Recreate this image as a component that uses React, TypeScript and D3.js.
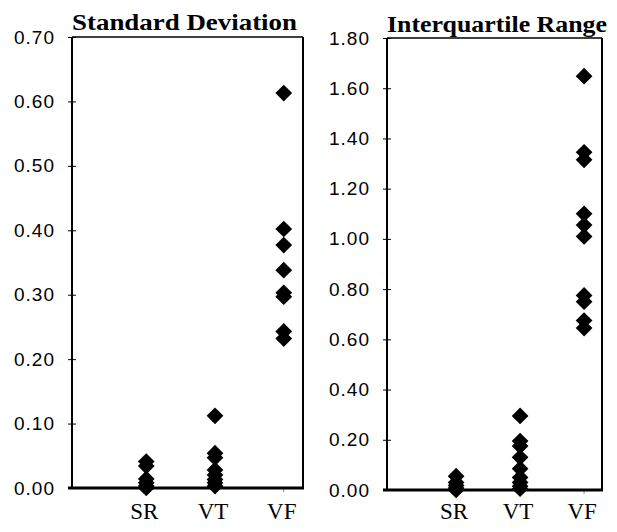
import { useEffect, useRef } from "react";
import * as d3 from "d3";

// categories on the x axis
const groups = ["SR", "VT", "VF"];

// Standard Deviation panel
const sdSR = [0.041, 0.034, 0.014, 0.008, 0.003, 0.0];
const sdVT = [0.112, 0.054, 0.047, 0.028, 0.02, 0.013, 0.008, 0.003];
const sdVF = [0.613, 0.402, 0.377, 0.338, 0.303, 0.297, 0.243, 0.232];
const sdTicks = [0, 0.1, 0.2, 0.3, 0.4, 0.5, 0.6, 0.7];

// Interquartile Range panel
const iqrSR = [0.055, 0.03, 0.018, 0.008, 0.0];
const iqrVT = [0.295, 0.195, 0.175, 0.13, 0.085, 0.05, 0.03, 0.015, 0.005];
const iqrVF = [1.648, 1.345, 1.315, 1.1, 1.055, 1.01, 0.775, 0.75, 0.675, 0.645];
const iqrTicks = [0, 0.2, 0.4, 0.6, 0.8, 1.0, 1.2, 1.4, 1.6, 1.8];

const diamond = d3.symbol(d3.symbolSquare, 140)();

const Panel = ({ title, titleWidth, titleY, box, yMax, ticks, series }) => {
  const axisRef = useRef(null);

  const xScale = d3
    .scaleLinear()
    .domain([-0.08, 3.28])
    .range([box.left, box.right]);

  const yScale = d3
    .scaleLinear()
    .domain([0, yMax])
    .range([box.bottom, box.top]);

  useEffect(() => {
    const yAxis = d3
      .axisLeft(yScale)
      .tickValues(ticks)
      .tickFormat(d3.format(".2f"))
      .tickSizeOuter(0)
      .tickSizeInner(4)
      .tickPadding(13);

    const g = d3.select(axisRef.current).call(yAxis);
    g.select(".domain").remove();
    g.selectAll(".tick line").attr("x2", 4).attr("x1", -4).attr("stroke-width", 1);
    g.selectAll(".tick text")
      .attr("font-size", "19px")
      .attr("font-family", "Liberation Sans, Arial, sans-serif")
      .attr("letter-spacing", "1px")
      .attr("fill", "#000");
  }, [yScale, ticks]);

  const points = series.flatMap((vals, i) => vals.map((v) => ({ g: i + 1, v })));

  return (
    <g>
      <text
        x={box.left}
        y={titleY}
        textLength={titleWidth}
        lengthAdjust="spacingAndGlyphs"
        fontFamily="Liberation Serif, Times New Roman, serif"
        fontWeight="bold"
        fontSize={23}
      >
        {title}
      </text>

      {/* frame */}
      <line x1={box.left} x2={box.right} y1={box.top} y2={box.top} stroke="#000" strokeWidth={1.5} />
      <line x1={box.right} x2={box.right} y1={box.top} y2={box.bottom} stroke="#000" strokeWidth={2} />
      <line x1={box.left} x2={box.left} y1={box.top} y2={box.bottom} stroke="#000" strokeWidth={2} />

      {/* faint category ticks */}
      {groups.map((d, i) => (
        <line
          key={d}
          x1={xScale(i + 1)}
          x2={xScale(i + 1)}
          y1={box.bottom}
          y2={box.bottom + 4}
          stroke="#888"
          strokeWidth={1}
        />
      ))}

      <g ref={axisRef} transform={`translate(${box.left},0)`}></g>

      <g className="points">
        {points.map((d, i) => (
          <path
            key={i}
            d={diamond}
            transform={`translate(${xScale(d.g)},${yScale(d.v)}) rotate(45)`}
            fill="#000"
          />
        ))}
      </g>

      <line x1={box.left - 4} x2={box.right + 1} y1={box.bottom} y2={box.bottom} stroke="#000" strokeWidth={3} />

      {groups.map((d, i) => (
        <text
          key={d}
          x={xScale(i + 1) - 2}
          y={519}
          textAnchor="middle"
          fontFamily="Liberation Serif, Times New Roman, serif"
          fontSize={23}
        >
          {d}
        </text>
      ))}
    </g>
  );
};

const App = () => {
  return (
    <svg
      width={617}
      height={532}
      viewBox="0 0 617 532"
      style={{ position: "absolute", left: 0, top: 0, background: "#fff" }}
    >
      <Panel
        title="Standard Deviation"
        titleWidth={225}
        titleY={30}
        box={{ left: 72, right: 303, top: 37, bottom: 488 }}
        yMax={0.7}
        ticks={sdTicks}
        series={[sdSR, sdVT, sdVF]}
      />
      <Panel
        title="Interquartile Range"
        titleWidth={220}
        titleY={32}
        box={{ left: 387, right: 602, top: 38, bottom: 490 }}
        yMax={1.8}
        ticks={iqrTicks}
        series={[iqrSR, iqrVT, iqrVF]}
      />
    </svg>
  );
};

export default App;
